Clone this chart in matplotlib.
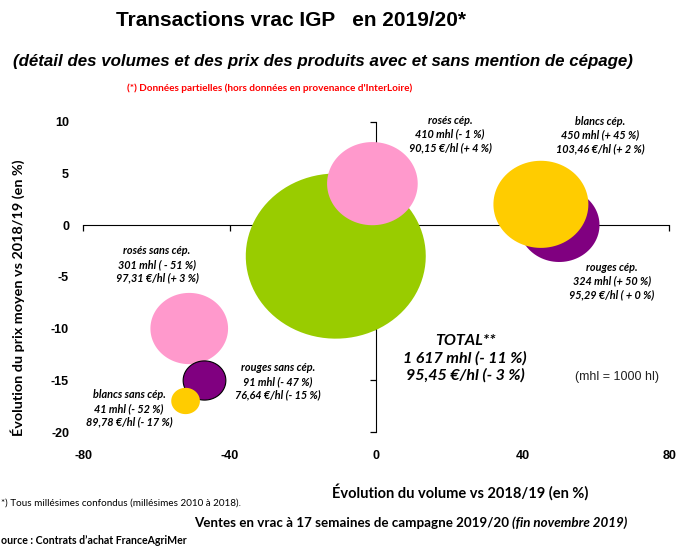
import numpy as np
import matplotlib.pyplot as plt
from matplotlib.path import Path

plt.rcParams['axes.unicode_minus'] = False

# donnees
categories = ['TOTAL', 'rouges cép.', 'blancs cép.', 'rosés cép.',
              'rosés sans cép.', 'rouges sans cép.', 'blancs sans cép.']
evol_volume = [-11, 50, 45, -1, -51, -47, -52]
evol_prix = [-3, 0, 2, 4, -10, -15, -17]
volumes_mhl = [1617, 324, 450, 410, 301, 91, 41]

etiquettes = [
    'TOTAL**\n1 617 mhl (- 11 %)\n95,45 €/hl (- 3 %)',
    'rouges cép.\n324 mhl (+ 50 %)\n95,29 €/hl ( + 0 %)',
    'blancs cép.\n450 mhl (+ 45 %)\n103,46 €/hl (+ 2 %)',
    'rosés cép.\n410 mhl (- 1 %)\n90,15 €/hl (+ 4 %)',
    'rosés sans cép.\n301 mhl ( - 51 %)\n97,31 €/hl (+ 3 %)',
    'rouges sans cép.\n91 mhl (- 47 %)\n76,64 €/hl (- 15 %)',
    'blancs sans cép.\n41 mhl (- 52 %)\n89,78 €/hl (- 17 %)',
]
# position des etiquettes (en unites du graphique)
etiq_x = [24.3, 64.4, 61.2, 20.2, -59.8, -26.8, -67.4]
etiq_y = [-12.9, -5.4, 8.7, 8.8, -3.8, -15.1, -17.7]

xticks = [-80, -40, 0, 40, 80]
yticks = [10, 5, 0, -5, -10, -15, -20]

couleurs = ['#99CC00', '#800080', '#FFCC00', '#FF99CC', '#FF99CC', '#800080', '#FFCC00']
bords = ['none', 'none', 'none', 'none', 'none', 'black', 'none']

calibri = ['Lato', 'DejaVu Sans']
arial = ['Liberation Sans', 'DejaVu Sans']

fig = plt.figure(figsize=(6.76, 5.47), dpi=100)
ax = fig.add_axes([0.1228, 0.2102, 0.867, 0.5676])

# bulle un peu ovale comme dans l'original (image etiree)
t = np.linspace(0, 2 * np.pi, 100)
bulle = Path(np.column_stack([1.09 * np.cos(t), np.sin(t)]), closed=True)

echelle = 10.39  # surface proportionnelle au volume
for i in range(len(categories)):
    ax.scatter(evol_volume[i], evol_prix[i], s=volumes_mhl[i] * echelle,
               marker=bulle, color=couleurs[i], edgecolors=bords[i],
               linewidths=0.8, zorder=2 + i)

for i in range(len(categories)):
    if i == 0:
        ax.text(etiq_x[i], etiq_y[i], etiquettes[i], ha='center', va='center',
                fontsize=11.5, fontweight='bold', style='italic',
                family=calibri, linespacing=1.25, zorder=20)
    else:
        ax.text(etiq_x[i], etiq_y[i], etiquettes[i], ha='center', va='center',
                fontsize=7.8, fontweight='bold', style='italic',
                family=calibri, linespacing=1.3, zorder=20)

ax.text(65.8, -14.7, '(mhl = 1000 hl)', ha='center', va='center',
        fontsize=9, family=arial, color='#222222')

ax.set_xlim(-80, 80)
ax.set_ylim(-20, 10)

# axes qui se croisent en 0
ax.spines['left'].set_position(('data', 0))
ax.spines['bottom'].set_position(('data', 0))
ax.spines['right'].set_visible(False)
ax.spines['top'].set_visible(False)
ax.spines['left'].set_zorder(1)
ax.spines['bottom'].set_zorder(1)
ax.set_xticks(xticks)
ax.set_yticks(yticks)
ax.tick_params(axis='both', direction='out', length=4, width=0.9,
               labelbottom=False, labelleft=False)

# etiquettes des graduations en bas et a gauche
secx = ax.secondary_xaxis('bottom')
secx.spines['bottom'].set_visible(False)
secx.set_xticks(xticks)
secx.tick_params(length=0, pad=13)
for lab in secx.get_xticklabels():
    lab.set_fontweight('bold')
    lab.set_fontsize(9)
    lab.set_family(arial)

secy = ax.secondary_yaxis('left')
secy.spines['left'].set_visible(False)
secy.set_yticks(yticks)
secy.tick_params(length=0, pad=10)
for lab in secy.get_yticklabels():
    lab.set_fontweight('bold')
    lab.set_fontsize(9)
    lab.set_family(arial)

fig.text(18 / 676, 1 - 298 / 547, 'Évolution du prix moyen vs 2018/19 (en %)',
         rotation=90, ha='center', va='center', fontsize=10.4,
         fontweight='bold', family=calibri)
fig.text(460 / 676, 1 - 492 / 547, 'Évolution du volume vs 2018/19 (en %)',
         ha='center', va='center', fontsize=10.5, fontweight='bold', family=calibri)

# titres
fig.text(291 / 676, 1 - 20 / 547, 'Transactions vrac IGP   en 2019/20*',
         ha='center', va='center', fontsize=15, fontweight='bold', family=arial)
fig.text(323 / 676, 1 - 62 / 547,
         '(détail des volumes et des prix des produits avec et sans mention de cépage)',
         ha='center', va='center', fontsize=12.2, fontweight='bold',
         style='italic', family=arial)
fig.text(270 / 676, 1 - 88 / 547,
         "(*) Données partielles (hors données en provenance d'InterLoire)",
         ha='center', va='center', fontsize=7.2, fontweight='bold',
         color='#FF0000', family=calibri)

# notes de bas
fig.text(1 / 676, 1 - 503 / 547, '*) Tous millésimes confondus (millésimes 2010 à 2018).',
         ha='left', va='center', fontsize=7.1, family=calibri)
fig.text(512 / 676, 1 - 523 / 547,
         'Ventes en vrac à 17 semaines de campagne 2019/20 ',
         ha='right', va='center', fontsize=9.6, fontweight='bold', family=calibri)
fig.text(512 / 676, 1 - 523 / 547, '(fin novembre 2019)',
         ha='left', va='center', fontsize=9.6, fontweight='bold', style='italic',
         family=calibri)
fig.text(1 / 676, 1 - 541 / 547, 'ource : Contrats d\u2019achat FranceAgriMer',
         ha='left', va='center', fontsize=7.6, fontweight='bold', family=calibri)

fig.savefig('out.png', dpi=100)
